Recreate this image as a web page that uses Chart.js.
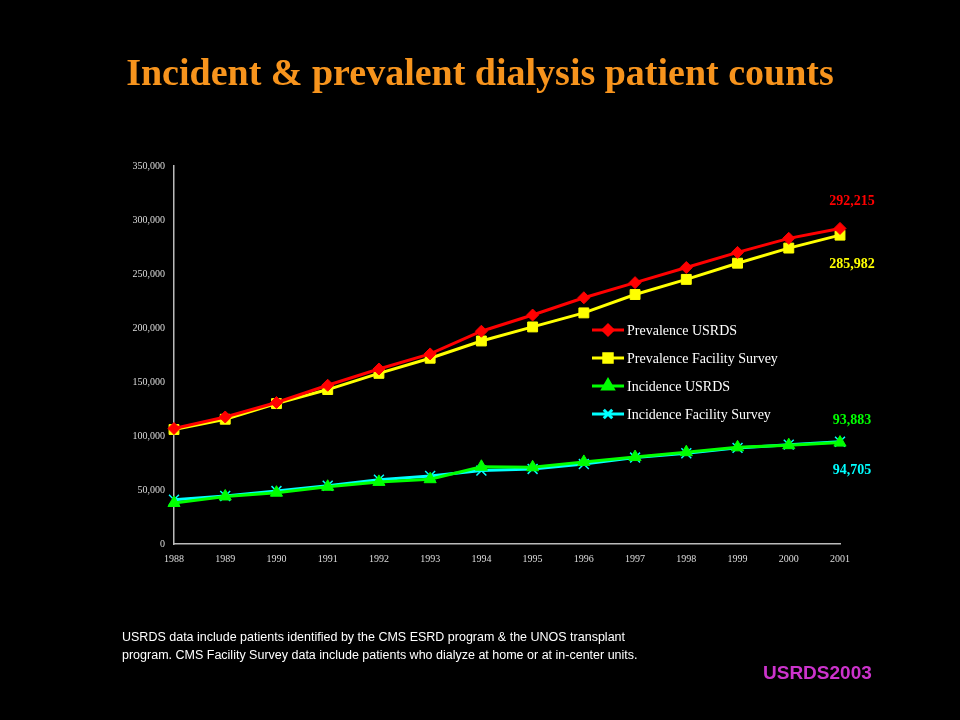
<!DOCTYPE html>
<html><head><meta charset="utf-8">
<script src="https://cdn.jsdelivr.net/npm/chart.js@4"></script>
<style>
html,body{margin:0;padding:0;background:#000;width:960px;height:720px;overflow:hidden}
#wrap{position:absolute;left:0;top:0;width:960px;height:720px}
#title{position:absolute;left:0;width:960px;top:50px;text-align:center;color:#f7941d;font:bold 38px "Liberation Serif",serif}
#note{position:absolute;left:122px;top:628px;color:#fff;font:12.5px "Liberation Sans",Arial,sans-serif;line-height:18px}
#src{position:absolute;left:763px;top:662px;color:#cc33cc;font:bold 19px "Liberation Sans",Arial,sans-serif}
</style></head><body>
<div id="wrap"><canvas id="c" width="960" height="720"></canvas></div>
<div id="title">Incident &amp; prevalent dialysis patient counts</div>
<div id="note">USRDS data include patients identified by the CMS ESRD program &amp; the UNOS transplant<br>program. CMS Facility Survey data include patients who dialyze at home or at in-center units.</div>
<div id="src">USRDS2003</div>
<script>
const years=['1988','1989','1990','1991','1992','1993','1994','1995','1996','1997','1998','1999','2000','2001'];
const prevUSRDS=[107000,117600,131000,147000,162000,176000,197000,212000,228000,242000,256000,270000,283000,292215];
const prevFS=[106000,115500,130000,143000,158000,172000,188000,201000,214000,231000,245000,260000,274000,285982];
const incUSRDS=[38000,44000,47500,53000,57500,60000,71500,71000,76000,80500,85000,89500,91500,93883];
const incFS=[41000,44500,49000,54000,59500,63000,68000,69500,74000,80000,84000,89000,92000,94705];
const endLabels=[
 {text:'292,215',color:'#ff0000',value:292215,dy:-27},
 {text:'285,982',color:'#ffff00',value:285982,dy:29},
 {text:'93,883',color:'#00ff00',value:93883,dy:-22},
 {text:'94,705',color:'#00ffff',value:94705,dy:29}
];
const serif='"Liberation Serif","Times New Roman",serif';
const ds=[
 {label:'Prevalence USRDS',data:prevUSRDS,borderColor:'#ff0000',backgroundColor:'#ff0000',pointStyle:'rectRot',pointRadius:6},
 {label:'Prevalence Facility Survey',data:prevFS,borderColor:'#ffff00',backgroundColor:'#ffff00',pointStyle:'rect',pointRadius:7},
 {label:'Incidence USRDS',data:incUSRDS,borderColor:'#00ff00',backgroundColor:'#00ff00',pointStyle:'triangle',pointRadius:7},
 {label:'Incidence Facility Survey',data:incFS,borderColor:'#00ffff',backgroundColor:'#00ffff',pointStyle:'crossRot',pointRadius:7,pointBorderWidth:1.5}
].map(d=>Object.assign({borderWidth:3,tension:0,pointBorderWidth:d.pointBorderWidth||1},d));
const deco={id:'deco',afterDatasetsDraw(ch){
 const c=ch.ctx,x=ch.scales.x,y=ch.scales.y;
 c.save();
 c.font='bold 14px '+serif;c.textAlign='center';c.textBaseline='middle';
 const xe=x.getPixelForValue(years.length-1)+12;
 endLabels.forEach(l=>{c.fillStyle=l.color;c.fillText(l.text,xe,y.getPixelForValue(l.value)+l.dy);});
 // legend
 c.font='14px '+serif;c.textAlign='left';
 ch.data.datasets.forEach((d,i)=>{
  const ly=330+i*28,lx=592;
  c.strokeStyle=d.borderColor;c.lineWidth=3;c.beginPath();c.moveTo(lx,ly);c.lineTo(lx+32,ly);c.stroke();
  c.fillStyle=d.backgroundColor;
  Chart.helpers.drawPoint(c,{pointStyle:d.pointStyle,radius:d.pointRadius-1,borderWidth:d.pointBorderWidth},lx+16,ly);
  c.lineWidth=1;c.fill&&0;
  c.fillStyle='#fff';c.fillText(d.label,lx+35,ly+1);
 });
 c.restore();
}};
new Chart(document.getElementById('c'),{type:'line',data:{labels:years,datasets:ds},
 options:{responsive:false,animation:false,
  layout:{padding:{left:110,right:120,top:166,bottom:146}},
  plugins:{legend:{display:false},tooltip:{enabled:false}},
  scales:{
   x:{offset:false,grid:{display:false,drawTicks:true,tickLength:5,color:'#bbb'},border:{color:'#bbb',width:1.5},
      ticks:{color:'#ddd',font:{family:serif,size:10},maxRotation:0,padding:4},
      afterFit(s){s.height=30;}},
   y:{min:0,max:350000,grid:{display:false,drawTicks:true,tickLength:5,color:'#bbb'},border:{color:'#bbb',width:1.5},
      ticks:{stepSize:50000,color:'#ddd',font:{family:serif,size:10},padding:4},
      afterFit(s){s.width=64;}}
  }},plugins:[deco]});
</script></body></html>
